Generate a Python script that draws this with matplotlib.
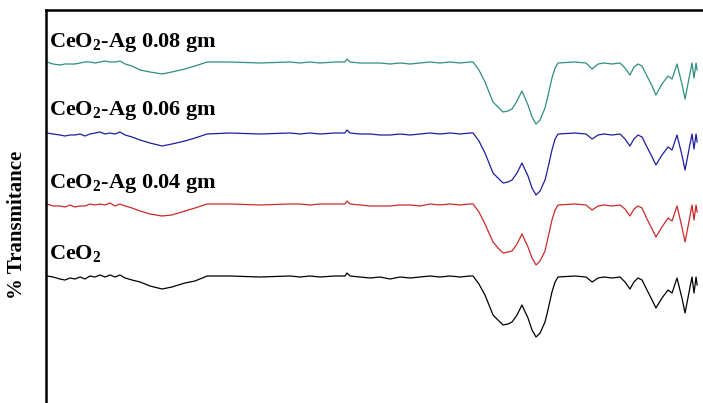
import matplotlib
matplotlib.use('Agg')
import matplotlib.pyplot as plt

plt.rcParams['font.family'] = ['Liberation Serif', 'DejaVu Serif']
plt.rcParams['mathtext.fontset'] = 'custom'
plt.rcParams['mathtext.rm'] = 'Liberation Serif:bold'
plt.rcParams['mathtext.bf'] = 'Liberation Serif:bold'

# wavenumber grid (cm-1)
wn = [3995, 3962, 3924, 3896, 3869, 3842, 3814, 3787, 3760, 3732,
      3705, 3678, 3650, 3623, 3596, 3568, 3530, 3486, 3432, 3366,
      3312, 3241, 3186, 3120, 2995, 2831, 2667, 2612, 2558, 2503,
      2421, 2367, 2356, 2339, 2285, 2230, 2175, 2121, 2066, 2011,
      1957, 1902, 1848, 1793, 1738, 1684, 1667, 1635, 1602, 1558,
      1531, 1503, 1476, 1454, 1427, 1400, 1367, 1345, 1323, 1301,
      1274, 1258, 1236, 1219, 1203, 1110, 1050,
      1017, 984, 952, 908, 864, 837, 810, 788, 766, 744,
      717, 689, 668, 635, 602, 580, 553, 526, 509, 487, 471,
      460, 449, 443]

# change in transmittance relative to each trace's baseline
t_ceo2 = [0, -1, -3, -4, -2, -3, -1, -3, 0, -1,
          1, -1, 1, -1, 1, -2, -4, -6, -10, -13,
          -11, -7, -5, 0, 0, -1, 0, -1, 0, -1,
          0, 0, 3, 0, -1, -2, -1, -3, -1, -2,
          -1, 0, -1, 0, -1, 0, 0, -8, -19, -39,
          -44, -49, -48, -46, -39, -29, -42, -54, -61, -57,
          -46, -34, -16, -6, -1, 0, -1,
          -6, -2, -1, -2, -1, -6, -13, -6, -2, -4,
          -14, -24, -32, -22, -14, -17, -2, -22, -37, -16, -1,
          -17, -1, -9]
t_ag004 = [0, -2, -2, -3, -1, -3, -2, -2, 0, -1,
           0, -1, 1, -2, 0, -2, -4, -7, -10, -12,
           -11, -7, -4, 0, 0, -1, 0, 0, -1, 0,
           0, 0, 3, 0, -1, -2, -2, -2, -1, -1,
           -2, 0, -1, 0, -1, 0, 0, -8, -20, -38,
           -44, -49, -48, -47, -40, -30, -43, -54, -61, -57,
           -47, -34, -16, -6, -1, 0, -1,
           -6, -2, -1, -2, -1, -5, -12, -5, -2, -4,
           -15, -25, -33, -23, -14, -17, -2, -23, -38, -17, -1,
           -16, -1, -8]
t_ag006 = [0, -1, -2, -3, -2, -2, -1, -3, -1, 0,
           1, -1, 0, -1, 1, -2, -4, -7, -10, -13,
           -11, -8, -5, -1, 0, -1, 0, -1, 0, -1,
           0, 0, 3, 0, -1, -1, -2, -2, -1, -2,
           -1, 0, -1, 0, -1, 0, 0, -8, -20, -40,
           -45, -50, -49, -47, -40, -30, -43, -55, -62, -58,
           -47, -35, -17, -6, -1, 0, -1,
           -6, -2, -1, -2, -1, -6, -13, -6, -2, -4,
           -14, -24, -32, -22, -14, -17, -2, -22, -37, -16, -1,
           -16, -1, -9]
t_ag008 = [0, -2, -3, -2, -2, -2, -1, 0, 0, -1,
           0, 1, 0, 0, 1, -2, -4, -8, -10, -12,
           -10, -7, -4, 0, 0, -1, 0, -1, 0, -1,
           0, 0, 3, 0, -1, -1, -1, -2, -1, -2,
           -1, 0, -1, 0, -1, 0, 0, -8, -20, -40,
           -45, -50, -49, -47, -39, -29, -43, -55, -62, -58,
           -46, -34, -16, -6, -1, 0, -1,
           -7, -2, -1, -2, -1, -6, -13, -5, -2, -4,
           -14, -24, -33, -22, -14, -17, -2, -22, -37, -16, -1,
           -16, -1, -8]

labels = [r'CeO$_2$', r'CeO$_2$-Ag 0.04 gm', r'CeO$_2$-Ag 0.06 gm', r'CeO$_2$-Ag 0.08 gm']
series = [t_ceo2, t_ag004, t_ag006, t_ag008]
colors = ['#000000', '#cc2a2a', '#1e1ea0', '#2e8f7e']
offsets = [134, 206, 277, 348]
label_y = [151, 222, 295, 363]

fig = plt.figure(figsize=(7.03, 4.03), dpi=100)
ax = fig.add_axes([46 / 703, 1 - 410 / 403, 659 / 703, 400 / 403])

for vals, c, off in zip(series, colors, offsets):
    ax.plot(wn, [v + off for v in vals], color=c, lw=0.9)

for lab, y in zip(labels, label_y):
    ax.text(3984, y, lab, fontsize=16, fontweight='bold', ha='left', va='baseline')

ax.set_xlim(4000, 400)
ax.set_ylim(0, 400)
ax.set_xticks([])
ax.set_yticks([])
for s in ['right', 'bottom']:
    ax.spines[s].set_visible(False)
for s in ['left', 'top']:
    ax.spines[s].set_linewidth(1.8)

fig.text(17 / 703, 1 - 225 / 403, '% Transmitance', rotation=90, fontsize=15,
         fontweight='bold', ha='center', va='center')

fig.savefig('out.png', dpi=100)
